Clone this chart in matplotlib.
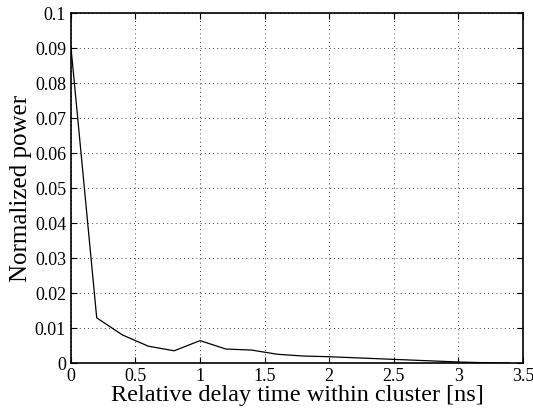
import matplotlib as mpl
mpl.use('Agg')
import matplotlib.pyplot as plt

delay = [0.0, 0.2, 0.4, 0.6, 0.8, 1.0, 1.2, 1.4, 1.6, 1.8,
         2.0, 2.2, 2.4, 2.6, 2.8, 3.0, 3.2, 3.4]
power = [0.0905, 0.0130, 0.0081, 0.0049, 0.0036, 0.0065, 0.0041, 0.0038, 0.0026, 0.0021,
         0.0019, 0.0016, 0.0013, 0.0010, 0.0007, 0.0004, 0.0002, 0.0001]
xticks = [0, 0.5, 1, 1.5, 2, 2.5, 3, 3.5]
xticklabels = ['0', '0.5', '1', '1.5', '2', '2.5', '3', '3.5']
yticks = [0, 0.01, 0.02, 0.03, 0.04, 0.05, 0.06, 0.07, 0.08, 0.09, 0.1]
yticklabels = ['0', '0.01', '0.02', '0.03', '0.04', '0.05', '0.06', '0.07', '0.08', '0.09', '0.1']

plt.rcParams['font.family'] = ['Liberation Serif', 'DejaVu Serif']

fig = plt.figure(figsize=(5.33, 4.12), dpi=100)
ax = fig.add_axes([0.133, 0.118, 0.848, 0.850])

ax.plot(delay, power, color='black', linewidth=0.9)

ax.set_xlim(0, 3.5)
ax.set_ylim(0, 0.1)
ax.set_xticks(xticks)
ax.set_xticklabels(xticklabels)
ax.set_yticks(yticks)
ax.set_yticklabels(yticklabels)
ax.tick_params(direction='in', top=True, right=True, labelsize=13, length=4, width=0.8)
ax.grid(True, linestyle=(0, (1, 4)), color='black', linewidth=0.6)
for s in ax.spines.values():
    s.set_linewidth(1.2)

ax.set_xlabel('Relative delay time within cluster [ns]', fontsize=17.5, labelpad=0)
ax.set_ylabel('Normalized power', fontsize=18, labelpad=2)

fig.savefig('out.png', dpi=100)
